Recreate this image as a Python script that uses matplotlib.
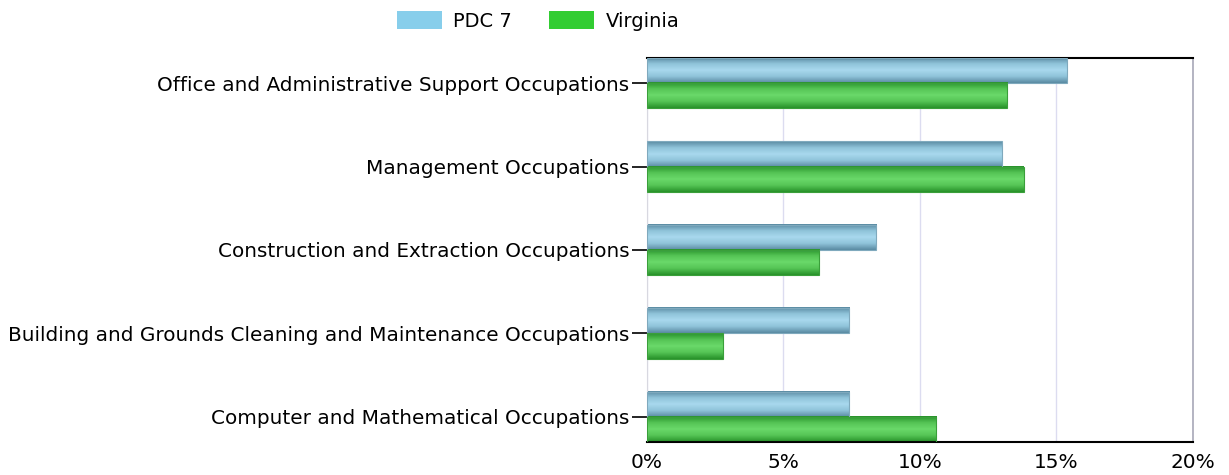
import matplotlib.pyplot as plt
import numpy as np
from matplotlib.colors import LinearSegmentedColormap
from matplotlib.patches import Patch

categories = [
    "Office and Administrative Support Occupations",
    "Management Occupations",
    "Construction and Extraction Occupations",
    "Building and Grounds Cleaning and Maintenance Occupations",
    "Computer and Mathematical Occupations",
]
pdc7 = [15.4, 13.0, 8.4, 7.4, 7.4]
virginia = [13.2, 13.8, 6.3, 2.8, 10.6]
xticks = [0, 5, 10, 15, 20]

fig = plt.figure(figsize=(12.29, 4.75), dpi=100)
ax = fig.add_axes([0.5264, 0.0695, 0.4443, 0.8084])

# bar gradients: dark edge -> light middle -> dark edge
cm_blue = LinearSegmentedColormap.from_list(
    "b", ["#5a8aa2", "#8fc3d9", "#a9d9ee", "#8fc3d9", "#5a8aa2"])
cm_green = LinearSegmentedColormap.from_list(
    "g", ["#28922a", "#55c455", "#6ad96a", "#55c455", "#28922a"])
grad = np.linspace(0, 1, 64).reshape(-1, 1)

h = 0.3
y = np.arange(len(categories))
b1 = ax.barh(y - h / 2, pdc7, height=h, color="none", edgecolor="#7fa9bd", linewidth=0.8, zorder=3)
b2 = ax.barh(y + h / 2, virginia, height=h, color="none", edgecolor="#3a9f3a", linewidth=0.8, zorder=3)

for bars, cmap in ((b1, cm_blue), (b2, cm_green)):
    for p in bars:
        x0, y0 = p.get_x(), p.get_y()
        ax.imshow(grad, extent=[x0, x0 + p.get_width(), y0, y0 + p.get_height()],
                  cmap=cmap, aspect="auto", zorder=2, interpolation="bilinear")

ax.set_xlim(0, 20)
ax.set_ylim(len(categories) - 1 + 0.3, -0.3)
ax.set_aspect("auto")

ax.set_yticks(y)
ax.set_yticklabels(categories, fontsize=14.4, va="center_baseline")
ax.set_xticks(xticks)
ax.set_xticklabels(["%d%%" % v for v in xticks], fontsize=14.4)
ax.tick_params(axis="x", length=0, pad=8)
ax.tick_params(axis="y", length=11, width=1.2, color="black", pad=1.5)

ax.grid(axis="x", color="#dcdcf0", linewidth=1, zorder=0)
ax.set_axisbelow(True)
for s in ("top", "bottom"):
    ax.spines[s].set_color("black")
    ax.spines[s].set_linewidth(1.5)
ax.spines["left"].set_color("#d8d8e0")
ax.spines["right"].set_color("#a8a8b8")
ax.spines["right"].set_linewidth(1.2)

handles = [Patch(facecolor="#87ceeb", label="PDC 7"),
           Patch(facecolor="#32cd32", label="Virginia")]
fig.legend(handles=handles, loc="upper center", bbox_to_anchor=(0.4378, 1.0),
           ncol=2, frameon=False, fontsize=14, handlelength=2.3, handleheight=1.1,
           columnspacing=1.9, handletextpad=0.6, borderaxespad=0.15)

fig.savefig("out.png", dpi=100)
